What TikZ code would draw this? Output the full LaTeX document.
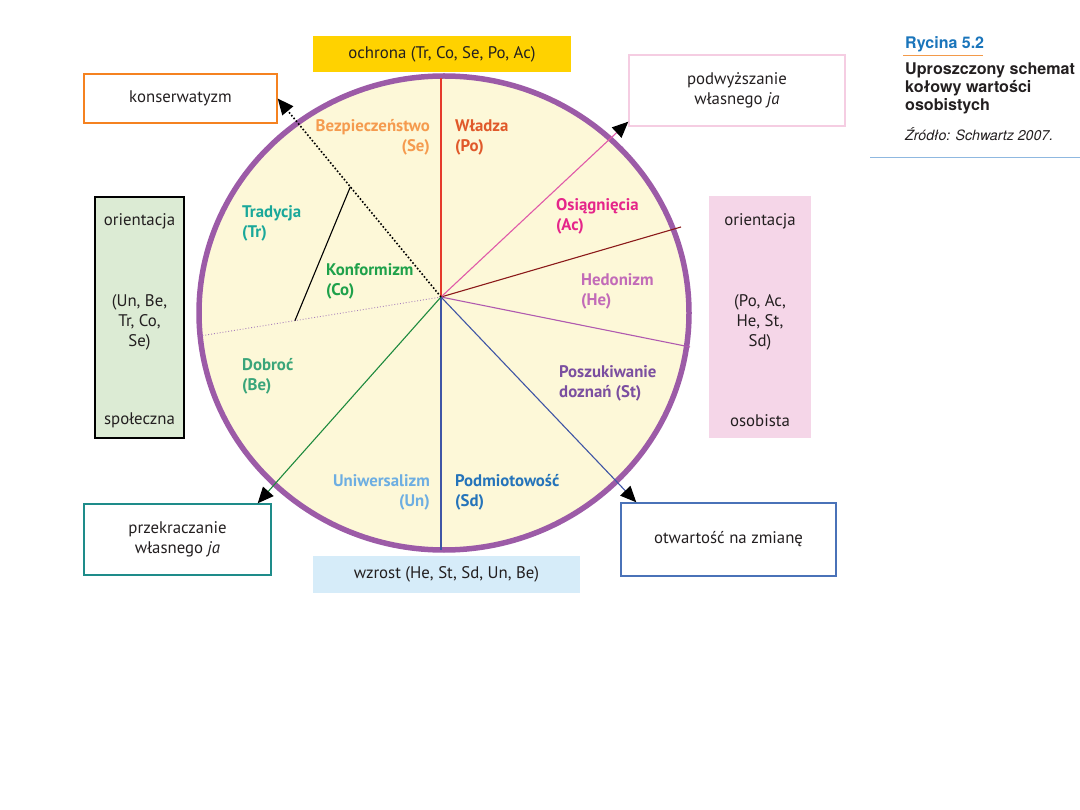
\documentclass[tikz,border=0pt]{standalone}
\usepackage{fontspec}
\setmainfont{PT Sans}
\newfontfamily\headfont{TeX Gyre Heros}
\usepackage{tikz}
\usetikzlibrary{arrows.meta, calc}

\definecolor{txtgray}{HTML}{231F20}
\definecolor{ringpurple}{HTML}{9C5BA7}
\definecolor{ringfill}{HTML}{FDF8D8}
\definecolor{ochyellow}{HTML}{FFD200}
\definecolor{wzrblue}{HTML}{D6ECF9}
\definecolor{spolgreen}{HTML}{DCEBD4}
\definecolor{osobpink}{HTML}{F5D6E8}
\definecolor{konsorange}{HTML}{F58220}
\definecolor{podwpink}{HTML}{F5CDE2}
\definecolor{przteal}{HTML}{1E8C8A}
\definecolor{otwblue}{HTML}{4A72B8}
\definecolor{secol}{HTML}{F59B4F}
\definecolor{pocol}{HTML}{E0592A}
\definecolor{accol}{HTML}{E5258A}
\definecolor{hecol}{HTML}{C26BB8}
\definecolor{stcol}{HTML}{7B4FA0}
\definecolor{sdcol}{HTML}{2574BA}
\definecolor{uncol}{HTML}{6DAEE2}
\definecolor{becol}{HTML}{3AA57A}
\definecolor{trcol}{HTML}{1AA89A}
\definecolor{cocol}{HTML}{1EA14A}
\definecolor{redline}{HTML}{E53A2B}
\definecolor{magline}{HTML}{E05AA8}
\definecolor{dredline}{HTML}{8B1A1A}
\definecolor{purline}{HTML}{B05AAF}
\definecolor{blueline}{HTML}{3F55A5}
\definecolor{greenline}{HTML}{1E8A3E}
\definecolor{dotpurple}{HTML}{A67DBB}
\definecolor{rycblue}{HTML}{1A75BB}
\definecolor{rycorange}{HTML}{F39A4A}
\definecolor{rulblue}{HTML}{8FB8E0}

\tikzset{
  sbox/.style    = {rectangle, draw, line width=1.4pt, align=center,
                    font=\fontsize{16.8}{20}\selectfont, text=txtgray,
                    inner sep=0pt},
  bandbox/.style = {rectangle, align=center, inner sep=0pt,
                    font=\fontsize{16.8}{20}\selectfont, text=txtgray},
  btxt/.style    = {align=center, inner sep=0pt,
                    font=\fontsize{16.8}{20}\selectfont, text=txtgray},
  seclbl/.style  = {inner sep=0pt, font=\fontsize{16.8}{20}\selectfont\bfseries},
  spoke/.style   = {line width=1.1pt},
  arr/.style     = {-{Triangle[length=16pt, width=14pt, color=black, fill=black]}},
}

\begin{document}
\begin{tikzpicture}[x=1pt, y=-1pt]
  \useasboundingbox (0,0) rectangle (1080,810);
  \coordinate (c) at (441,297);

  % bands above and below
  \node[bandbox, fill=ochyellow, minimum width=258, minimum height=36] (ochr) at (442,54)
    {ochrona (Tr, Co, Se, Po, Ac)};
  \node[bandbox, fill=wzrblue, minimum width=267, minimum height=37] (wzr) at (446.5,574.5)
    {wzrost (He, St, Sd, Un, Be)};

  % orientation columns
  \node[bandbox, fill=spolgreen, draw=black, line width=1.2pt,
        minimum width=89, minimum height=241] (spol) at (139.5,317.5) {};
  \node[btxt] (spol-top) at ($(spol.north)+(0,25)$) {orientacja};
  \node[btxt] (spol-mid) at ($(spol.center)+(0,4.5)$) {(Un, Be,\\Tr, Co,\\Se)};
  \node[btxt] (spol-bot) at ($(spol.south)+(0,-18)$) {społeczna};

  \node[bandbox, fill=osobpink, minimum width=102, minimum height=242] (osob) at (760,317) {};
  \node[btxt] (osob-top) at ($(osob.north)+(0,26)$) {orientacja};
  \node[btxt] (osob-mid) at ($(osob.center)+(0,5)$) {(Po, Ac,\\He, St,\\Sd)};
  \node[btxt] (osob-bot) at ($(osob.south)+(0,-18)$) {osobista};

  % the wheel
  \draw[line width=5.5pt, draw=ringpurple, fill=ringfill]
    (444,313) ellipse[x radius=245, y radius=237];

  % outer boxes
  \node[sbox, draw=konsorange, minimum width=193, minimum height=49] (kons) at (180.5,98.5)
    {konserwatyzm};
  \node[sbox, draw=podwpink, minimum width=216, minimum height=71] (podw) at (737,90.5)
    {podwyższanie\\własnego \textit{ja}};
  \node[sbox, draw=przteal, minimum width=187, minimum height=71] (przek) at (177.5,539.5)
    {przekraczanie\\własnego \textit{ja}};
  \node[sbox, draw=otwblue, minimum width=215, minimum height=73] (otw) at (728.5,539.5)
    {otwartość na zmianę};

  % spoke ends on the rim
  \coordinate (rim-top) at (441,78);
  \coordinate (rim-bot) at (441,550);
  \coordinate (rim-he1) at (681,227);
  \coordinate (rim-he2) at (690,347);
  \coordinate (rim-left) at (200,336);
  \coordinate (tip-podw) at ($(podw.south west)+(0,-5)$);
  \coordinate (tip-otw) at ($(otw.north west)+(16,0)$);
  \coordinate (tip-przek) at ($(przek.north east)+(-14,0)$);

  % spokes
  \draw[spoke, redline] (c) -- (rim-top);
  \draw[spoke, blueline] (c) -- (rim-bot);
  \draw[spoke, dredline] (c) -- (rim-he1);
  \draw[spoke, purline] (c) -- (rim-he2);
  \draw[line width=0.9pt, dotpurple, dotted] (c) -- (rim-left);
  \draw[spoke, magline, arr] (c) -- (tip-podw);
  \draw[spoke, blueline, arr] (c) -- (tip-otw);
  \draw[spoke, greenline, arr] (c) -- (tip-przek);
  \draw[line width=1.6pt, black, dotted, arr] (c) -- (kons.east);
  \draw[line width=1.1pt, black] ($(c)!0.555!(kons.east)$) -- ($(c)!0.606!(rim-left)$);

  % sector labels
  \node[seclbl, text=secol, anchor=east, align=right] (se) at (430,137) {Bezpieczeństwo\\(Se)};
  \node[seclbl, text=pocol, anchor=west, align=left] (po) at (455,137) {Władza\\(Po)};
  \node[seclbl, text=accol, anchor=west, align=left] (ac) at (556,216) {Osiągnięcia\\(Ac)};
  \node[seclbl, text=hecol, anchor=west, align=left] (he) at (581,291) {Hedonizm\\(He)};
  \node[seclbl, text=stcol, anchor=west, align=left] (st) at (559,383) {Poszukiwanie\\doznań (St)};
  \node[seclbl, text=sdcol, anchor=west, align=left] (sd) at (455,492) {Podmiotowość\\(Sd)};
  \node[seclbl, text=uncol, anchor=east, align=right] (un) at (430,492) {Uniwersalizm\\(Un)};
  \node[seclbl, text=becol, anchor=west, align=left] (be) at (242,376) {Dobroć\\(Be)};
  \node[seclbl, text=trcol, anchor=west, align=left] (tr) at (242,223) {Tradycja\\(Tr)};
  \node[seclbl, text=cocol, anchor=west, align=left] (co) at (326,281) {Konformizm\\(Co)};

  % caption
  \node[anchor=base west, inner sep=0pt, text=rycblue,
        font=\headfont\bfseries\fontsize{16}{18}\selectfont] (ryc) at (905,49) {Rycina 5.2};
  \draw[rycorange, line width=1pt] (903,56) -- (983,56);
  \node[anchor=north west, inner sep=0pt, align=left, text=txtgray,
        font=\headfont\bfseries\fontsize{16.1}{18}\selectfont] (tytul) at (905,63)
    {Uproszczony schemat\\kołowy wartości\\osobistych};
  \node[anchor=base west, inner sep=0pt, text=txtgray,
        font=\headfont\itshape\fontsize{14.2}{16}\selectfont] (zrodlo) at (905,141)
    {Źródło: Schwartz 2007.};
  \draw[rulblue, line width=1pt] (870,158) -- (1080,158);
\end{tikzpicture}
\end{document}
